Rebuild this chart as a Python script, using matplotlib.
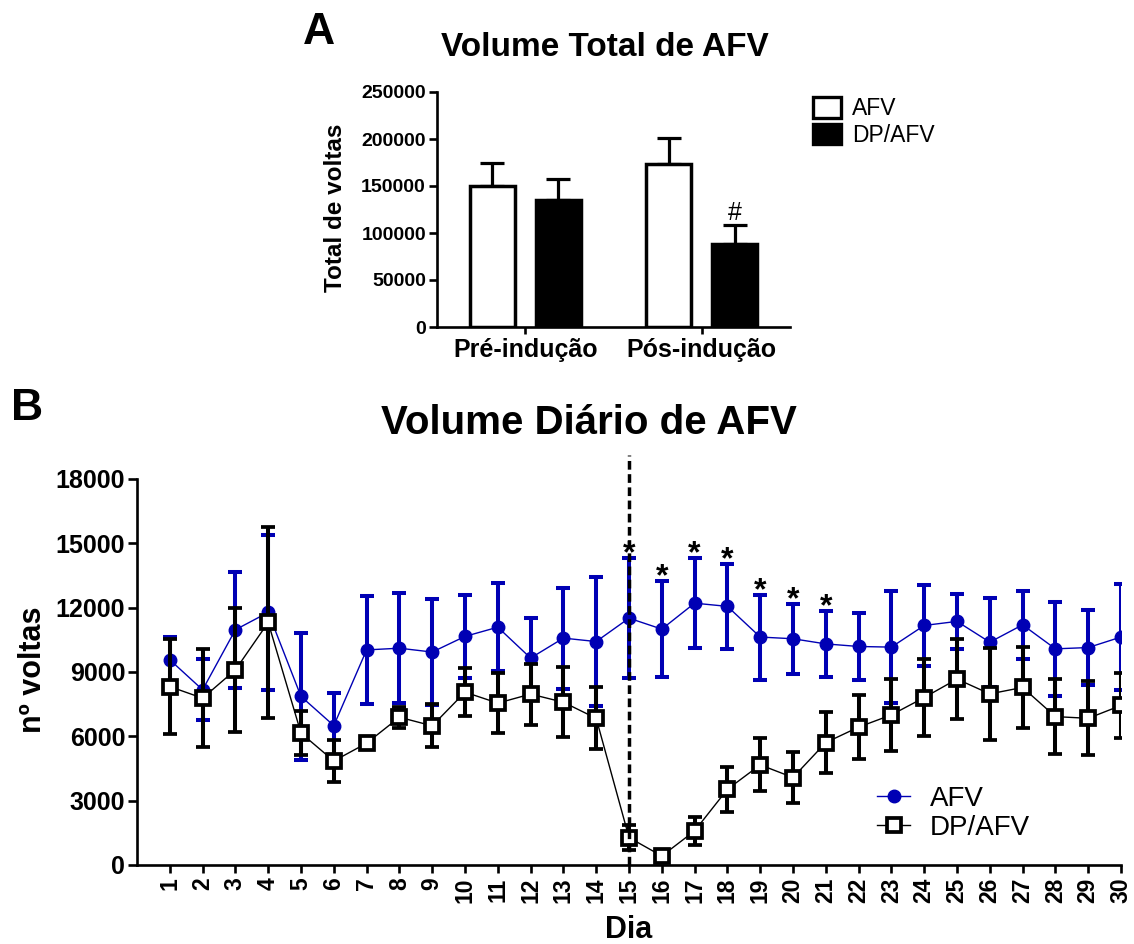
import matplotlib

matplotlib.use("Agg")

import matplotlib.pyplot as plt
import numpy as np
from matplotlib.lines import Line2D
from matplotlib.patches import Patch

plt.rcParams["font.family"] = ["Liberation Sans", "DejaVu Sans"]

BLUE = "#0000B4"

# Painel A - volume total
groups = ["Pré-indução", "Pós-indução"]
total_afv = [150000, 173000]
total_afv_sem = [24000, 28000]
total_dp = [135000, 88500]
total_dp_sem = [22000, 19500]

# Painel B - volume diário
days = list(range(1, 31))
afv_mean = [9570, 8170, 10970, 11780, 7860, 6500, 10030, 10110, 9930, 10660,
            11090, 9650, 10580, 10420, 11510, 11000, 12210, 12060, 10630, 10550,
            10310, 10190, 10160, 11170, 11360, 10390, 11200, 10080, 10140, 10630]
afv_sem = [1050, 1420, 2700, 3600, 2970, 1540, 2500, 2570, 2470, 1940,
           2060, 1870, 2350, 3000, 2800, 2240, 2100, 1990, 1980, 1620,
           1530, 1540, 2600, 1900, 1300, 2070, 1600, 2180, 1750, 2470]
dp_mean = [8320, 7780, 9100, 11310, 6150, 4850, 5680, 6890, 6490, 8060,
           7550, 7970, 7590, 6840, 1280, 420, 1590, 3530, 4670, 4080,
           5710, 6430, 7000, 7810, 8670, 7980, 8280, 6920, 6840, 7440]
dp_sem = [2220, 2270, 2900, 4470, 1030, 980, 250, 500, 1000, 1130,
          1400, 1420, 1620, 1440, 570, 200, 640, 1050, 1230, 1180,
          1440, 1490, 1680, 1790, 1880, 2130, 1880, 1750, 1720, 1500]
signif_days = [15, 16, 17, 18, 19, 20, 21]
induction_day = 15

W, H = 1134, 944
fig = plt.figure(figsize=(W / 100, H / 100), dpi=100)


def fx(px):
    return px / W


def fy(py):
    return 1 - py / H


def style_axes(ax, lw=1.9):
    for s in ("top", "right"):
        ax.spines[s].set_visible(False)
    for s in ("left", "bottom"):
        ax.spines[s].set_linewidth(lw)


# ---------- A ----------
axA = fig.add_axes([fx(437), fy(327), fx(353), 235 / H])
xg = np.array([1.0, 3.0])
off, w = 0.374, 0.51
zeros = np.zeros(2)
axA.errorbar(xg - off, total_afv, yerr=[zeros, total_afv_sem], fmt="none",
             ecolor="black", elinewidth=2.3, capsize=8.5, capthick=2.3, zorder=1)
axA.errorbar(xg + off, total_dp, yerr=[zeros, total_dp_sem], fmt="none",
             ecolor="black", elinewidth=2.3, capsize=8.5, capthick=2.3, zorder=1)
axA.bar(xg - off, total_afv, w, color="white", edgecolor="black", linewidth=2.5, zorder=2)
axA.bar(xg + off, total_dp, w, color="black", edgecolor="black", linewidth=2.5, zorder=2)
axA.text(xg[1] + off, total_dp[1] + total_dp_sem[1], "#", ha="center", va="bottom", fontsize=18)
axA.set_xlim(0, 4)
axA.set_ylim(0, 250000)
axA.set_yticks(np.arange(0, 250001, 50000))
axA.set_xticks(xg)
axA.set_xticklabels(groups, fontsize=18, fontweight="bold")
axA.tick_params(axis="y", direction="out", length=6, width=1.9, pad=2, labelsize=14)
axA.tick_params(axis="x", direction="out", length=5, width=1.9, pad=3)
for lab in axA.get_yticklabels():
    lab.set_fontweight("bold")
style_axes(axA)

fig.text(fx(336), fy(208), "Total de voltas", rotation=90, ha="center", va="center",
         fontsize=17.5, fontweight="bold")
fig.text(fx(605), fy(47), "Volume Total de AFV", ha="center", va="center",
         fontsize=24, fontweight="bold")
fig.text(fx(319), fy(33), "A", ha="center", va="center", fontsize=32, fontweight="bold")

legA = [Patch(facecolor="white", edgecolor="black", linewidth=2.4, label="AFV"),
        Patch(facecolor="black", edgecolor="black", linewidth=2.4, label="DP/AFV")]
fig.legend(handles=legA, loc="upper left", bbox_to_anchor=(fx(813), fy(97)), frameon=False,
           fontsize=16.5, handlelength=1.2, handleheight=1.0, handletextpad=0.5,
           labelspacing=0.15, borderpad=0, borderaxespad=0)

# ---------- B ----------
axB = fig.add_axes([fx(137), fy(865), fx(984), 386 / H])
axB.errorbar(days, afv_mean, yerr=afv_sem, color=BLUE, lw=1.0, marker="o", ms=9,
             elinewidth=2.9, capsize=5, capthick=2.9, zorder=3)
axB.errorbar(days, dp_mean, yerr=dp_sem, color="black", lw=1.0, marker="s", ms=9.5,
             mfc="white", mec="black", mew=2.7, elinewidth=2.9, capsize=5, capthick=2.9, zorder=4)
axB.plot([induction_day, induction_day], [0, 19100], color="black", lw=2.5,
         ls=(0, (2.5, 1.3)), clip_on=False, zorder=6)
for d in signif_days:
    i = d - 1
    axB.annotate("*", (d, afv_mean[i] + afv_sem[i]), xytext=(0, -3), textcoords="offset points",
                 ha="center", va="baseline", fontsize=23, fontweight="bold")

axB.set_xlim(0, 30)
axB.set_ylim(0, 18000)
axB.set_xticks(days)
axB.set_xticklabels([str(d) for d in days], rotation=90, fontsize=16.5, fontweight="bold")
axB.set_yticks(np.arange(0, 18001, 3000))
axB.tick_params(axis="y", direction="out", length=6.5, width=1.9, pad=2, labelsize=18)
axB.tick_params(axis="x", direction="out", length=6, width=1.9, pad=3)
for lab in axB.get_yticklabels():
    lab.set_fontweight("bold")
style_axes(axB)

fig.text(fx(33), fy(670), "nº voltas", rotation=90, ha="center", va="center",
         fontsize=22, fontweight="bold")
fig.text(fx(629), fy(930), "Dia", ha="center", va="center", fontsize=22, fontweight="bold")
fig.text(fx(589), fy(423), "Volume Diário de AFV", ha="center", va="center",
         fontsize=29, fontweight="bold")
fig.text(fx(27), fy(409), "B", ha="center", va="center", fontsize=32, fontweight="bold")

legB = [Line2D([], [], color=BLUE, lw=1.0, marker="o", ms=9, label="AFV"),
        Line2D([], [], color="black", lw=1.0, marker="s", ms=9.5, mfc="white", mew=2.7,
               label="DP/AFV")]
axB.legend(handles=legB, loc="upper left", bbox_to_anchor=(fx(877), fy(786)),
           bbox_transform=fig.transFigure, frameon=False, fontsize=20, handlelength=1.2,
           handletextpad=0.7, labelspacing=0.1, borderpad=0, borderaxespad=0)

fig.savefig("out.png", dpi=100)
plt.close(fig)
